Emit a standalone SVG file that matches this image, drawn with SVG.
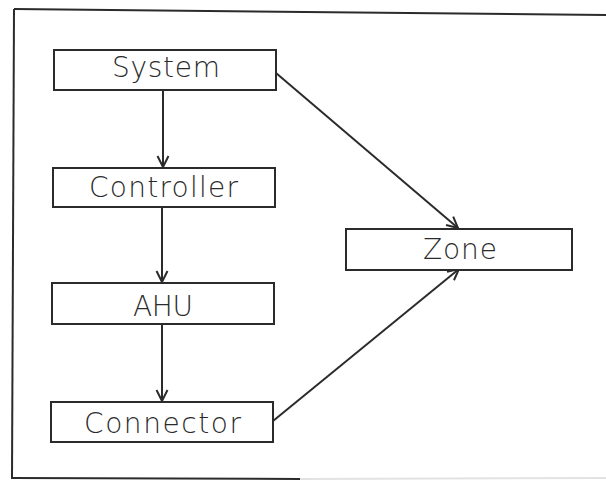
<svg xmlns="http://www.w3.org/2000/svg" width="606" height="481" viewBox="0 0 606 481">
  <style>
    .box { fill: #ffffff; stroke: #2b2b2b; stroke-width: 2; }
    .label { font-family: "DejaVu Sans", "Liberation Sans", sans-serif; font-weight: 200; font-size: 28px; fill: #2b2b2b; text-anchor: middle; }
    .edge { fill: none; stroke: #2b2b2b; stroke-width: 2; }
    .frame { fill: none; stroke: #2b2b2b; stroke-width: 2; }
  </style>
  <defs>
    <marker id="arrow" markerUnits="userSpaceOnUse" markerWidth="14" markerHeight="14" viewBox="-12 -7 14 14" refX="0" refY="0" orient="auto">
      <path d="M-11,-5.5 L0,0 L-11,5.5" fill="none" stroke="#2b2b2b" stroke-width="2"/>
    </marker>
  </defs>

  <rect width="606" height="481" fill="#ffffff"/>

  <!-- outer frame -->
  <g id="frame">
    <line class="frame" x1="14" y1="9" x2="606" y2="15"/>
    <line class="frame" x1="14" y1="9" x2="12" y2="479"/>
    <line class="frame" x1="12" y1="478" x2="300" y2="479"/>
    <line x1="300" y1="479" x2="606" y2="478" stroke="#e2e2e2" stroke-width="2"/>
  </g>

  <!-- connectors -->
  <g id="connectors">
    <line class="edge" x1="163" y1="91" x2="163" y2="167" marker-end="url(#arrow)"/>
    <line class="edge" x1="162" y1="207" x2="162" y2="282" marker-end="url(#arrow)"/>
    <line class="edge" x1="162" y1="325" x2="162" y2="401" marker-end="url(#arrow)"/>
    <line class="edge" x1="276" y1="73" x2="458" y2="228" marker-end="url(#arrow)"/>
    <line class="edge" x1="273" y1="421" x2="459" y2="269" marker-end="url(#arrow)"/>
  </g>

  <g id="node-system">
    <rect class="box" x="54" y="50" width="222" height="40"/>
    <text class="label" x="166" y="77" textLength="108" lengthAdjust="spacing">System</text>
  </g>

  <g id="node-controller">
    <rect class="box" x="53" y="168" width="222" height="39"/>
    <text class="label" x="163.5" y="197" textLength="149" lengthAdjust="spacing">Controller</text>
  </g>

  <g id="node-ahu">
    <rect class="box" x="52" y="283" width="222" height="41"/>
    <text class="label" x="163" y="316" textLength="60" lengthAdjust="spacing">AHU</text>
  </g>

  <g id="node-connector">
    <rect class="box" x="51" y="402" width="222" height="40"/>
    <text class="label" x="162.5" y="433" textLength="157" lengthAdjust="spacing">Connector</text>
  </g>

  <g id="node-zone">
    <rect class="box" x="346" y="229" width="226" height="41"/>
    <text class="label" x="460" y="259" textLength="74" lengthAdjust="spacing">Zone</text>
  </g>
</svg>
